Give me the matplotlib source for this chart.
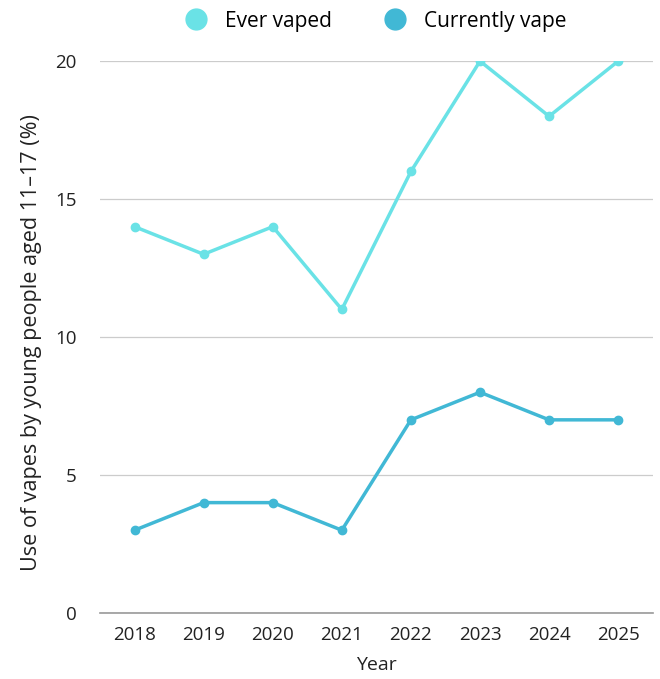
import matplotlib.pyplot as plt
from matplotlib.lines import Line2D

years = ["2018", "2019", "2020", "2021", "2022", "2023", "2024", "2025"]
ever_vaped = [14, 13, 14, 11, 16, 20, 18, 20]
currently_vape = [3, 4, 4, 3, 7, 8, 7, 7]
series_names = ["Ever vaped", "Currently vape"]
colors = ["#6ae2e6", "#41b8d5"]

plt.rcParams["font.family"] = ["Open Sans", "DejaVu Sans"]

fig = plt.figure(figsize=(6.6, 6.79), dpi=100)
ax = fig.add_axes([0.1515, 0.0972, 0.8375, 0.8128])

x = list(range(len(years)))
for vals, c in zip([ever_vaped, currently_vape], colors):
    ax.plot(x, vals, color=c, lw=2.5, marker="o", ms=6, solid_capstyle="round")

ax.set_xlim(-0.5, len(years) - 0.5)
ax.set_ylim(0, 20)
ax.set_yticks([0, 5, 10, 15, 20])
ax.set_xticks(x)
ax.set_xticklabels(years)
ax.tick_params(length=0, labelsize=13.5, colors="#222222")
ax.tick_params(axis="y", pad=17)
ax.tick_params(axis="x", pad=9)
ax.grid(axis="y", color="#cccccc", lw=0.9)
ax.set_axisbelow(True)
for s in ["top", "right", "left"]:
    ax.spines[s].set_visible(False)
ax.spines["bottom"].set_color("#999999")
ax.spines["bottom"].set_linewidth(1.2)

ax.set_xlabel("Year", fontsize=14, color="#222222", labelpad=9)
ax.set_ylabel("Use of vapes by young people aged 11\u201317 (%)", fontsize=15.5,
              color="#222222")
ax.yaxis.set_label_coords(-0.105, 0.49)

handles = [Line2D([], [], ls="", marker="o", ms=15, color=c) for c in colors]
fig.legend(handles, series_names, loc="upper center", bbox_to_anchor=(0.562, 1.012),
           ncol=2, frameon=False, fontsize=15, handletextpad=0.4, columnspacing=2.0)

fig.savefig("out.png", dpi=100)
